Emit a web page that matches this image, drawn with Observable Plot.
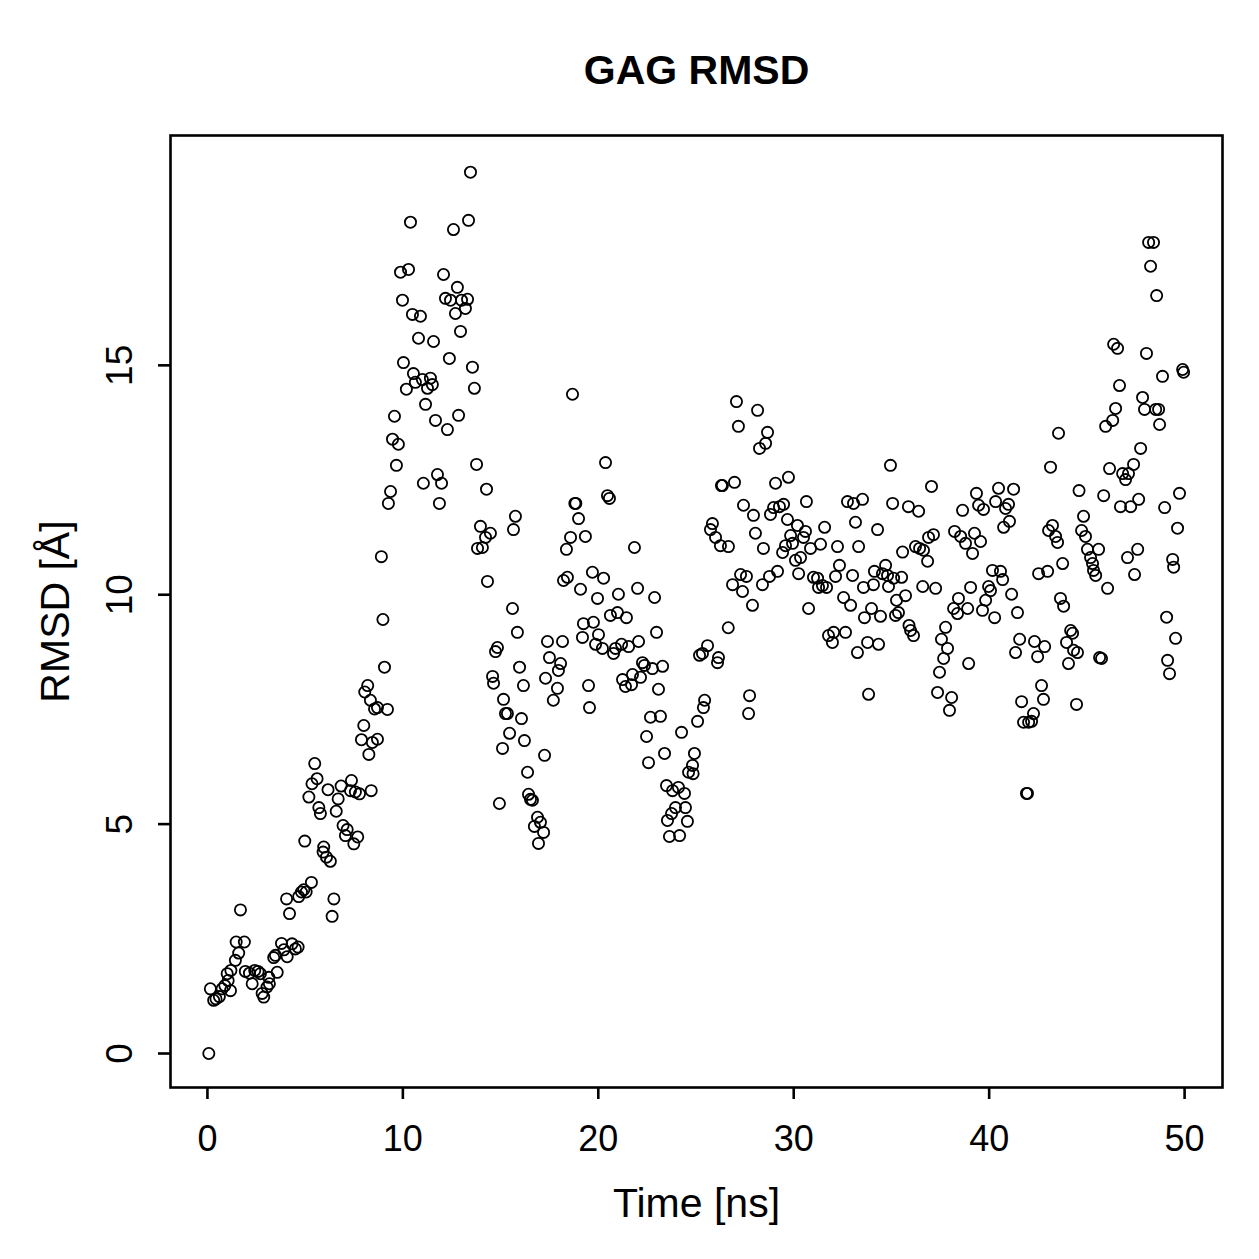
<!DOCTYPE html>
<html><head><meta charset="utf-8">
<script src="https://cdn.jsdelivr.net/npm/d3@7"></script>
<script src="https://cdn.jsdelivr.net/npm/@observablehq/plot@0.6"></script>
<style>html,body{margin:0;padding:0;background:#fff}</style>
</head><body><div id="chart"></div>
<script>
const chartTitle = "GAG RMSD";
const xLabel = "Time [ns]";
const yLabel = "RMSD [Å]";
const xTicks = [0, 10, 20, 30, 40, 50];
const yTicks = [0, 5, 10, 15];
// [time (ns), RMSD (Å)]
const rmsdSeries = [
[0.07,0],[0.15,1.41],[0.32,1.16],[0.44,1.19],[0.61,1.24],[0.75,1.41],[0.89,1.48],[1.01,1.74],[1.06,1.59],[1.18,1.37],
[1.2,1.81],[1.43,2.03],[1.47,2.43],[1.6,2.19],[1.69,3.13],[1.89,2.43],[1.94,1.79],[2.15,1.75],[2.29,1.52],[2.42,1.81],
[2.59,1.79],[2.71,1.74],[2.8,1.31],[2.88,1.23],[3.05,1.45],[3.14,1.66],[3.17,1.52],[3.39,2.09],[3.48,2.14],[3.57,1.77],
[3.79,2.4],[3.91,2.26],[4.08,2.11],[4.05,3.37],[4.2,3.05],[4.33,2.39],[4.5,2.28],[4.64,2.32],[4.67,3.42],[4.81,3.52],
[4.93,3.57],[4.98,4.63],[5.05,3.52],[5.19,5.59],[5.32,3.73],[5.35,5.88],[5.49,6.32],[5.61,5.99],[5.7,5.36],[5.78,5.23],
[5.92,4.39],[5.95,4.5],[6.09,4.28],[6.17,5.75],[6.29,4.19],[6.38,2.99],[6.47,3.37],[6.59,5.28],[6.69,5.55],[6.84,5.83],
[6.94,4.97],[7.06,4.75],[7.15,4.88],[7.32,5.73],[7.37,5.95],[7.49,4.57],[7.57,5.7],[7.69,4.72],[7.78,5.66],[7.88,6.84],
[8.0,7.15],[8.05,7.88],[8.2,8.02],[8.26,6.52],[8.34,7.7],[8.38,5.73],[8.44,6.78],[8.55,7.51],[8.7,6.85],[8.7,7.54],
[8.9,10.83],[8.98,9.46],[9.06,8.42],[9.21,7.5],[9.26,11.99],[9.37,12.25],[9.47,13.39],[9.57,13.89],[9.67,12.82],[9.77,13.28],
[9.88,17.03],[9.98,16.42],[10.03,15.06],[10.18,14.48],[10.29,17.09],[10.39,18.12],[10.49,16.11],[10.54,14.82],[10.64,14.63],[10.8,15.59],
[10.9,16.07],[11.0,14.69],[11.05,12.43],[11.16,14.15],[11.26,14.5],[11.41,14.72],[11.51,14.58],[11.57,15.52],[11.67,13.8],[11.77,12.62],
[11.87,11.99],[11.98,12.43],[12.08,16.98],[12.18,16.46],[12.28,13.6],[12.38,15.15],[12.44,16.42],[12.59,17.96],[12.69,16.13],[12.79,16.7],
[12.85,13.91],[12.95,15.74],[13.0,16.42],[13.2,16.24],[13.31,16.44],[13.36,18.16],[13.46,19.21],[13.56,14.96],[13.66,14.5],[13.77,12.84],
[13.82,11.01],[13.97,11.49],[14.07,11.03],[14.23,11.25],[14.28,12.3],[14.33,10.29],[14.48,11.34],[14.59,8.22],[14.64,8.07],[14.74,8.76],
[14.84,8.85],[14.94,5.45],[15.1,6.65],[15.15,7.72],[15.25,7.41],[15.35,7.41],[15.46,6.98],[15.61,9.7],[15.66,11.42],[15.76,11.71],
[15.86,9.18],[15.97,8.42],[16.07,7.3],[16.17,8.02],[16.22,6.82],[16.38,6.13],[16.43,5.65],[16.53,5.54],[16.63,5.52],[16.73,4.95],
[16.89,5.15],[16.94,4.58],[17.04,5.04],[17.2,4.82],[17.25,6.5],[17.3,8.18],[17.4,8.98],[17.5,8.63],[17.7,7.7],[17.91,7.96],
[17.96,8.35],[18.07,8.5],[18.17,8.98],[18.22,10.31],[18.37,10.99],[18.42,10.38],[18.58,11.25],[18.68,14.37],[18.8,11.99],[18.85,11.99],
[18.99,11.66],[19.09,10.12],[19.19,9.07],[19.24,9.37],[19.34,11.27],[19.5,8.02],[19.55,7.54],[19.7,10.49],[19.75,9.4],[19.86,8.92],
[19.96,9.92],[20.01,9.13],[20.21,8.83],[20.27,10.36],[20.37,12.88],[20.47,12.16],[20.57,12.1],[20.62,9.55],[20.78,8.72],[20.88,8.83],
[20.98,9.61],[21.03,10.01],[21.19,8.92],[21.24,8.15],[21.39,8.0],[21.44,9.5],[21.55,8.87],[21.7,8.04],[21.75,8.26],[21.85,11.03],
[22.01,10.14],[22.06,8.98],[22.16,8.2],[22.26,8.52],[22.36,8.46],[22.47,6.91],[22.57,6.34],[22.67,7.33],[22.77,8.39],[22.88,9.94],
[22.98,9.18],[23.08,7.94],[23.18,7.35],[23.29,8.44],[23.39,6.54],[23.49,5.84],[23.54,5.08],[23.64,4.73],[23.8,5.73],[23.75,5.23],
[23.95,5.36],[24.1,5.8],[24.16,4.75],[24.26,7.0],[24.41,5.67],[24.46,5.36],[24.56,5.06],[24.62,6.13],[24.82,6.28],[24.85,6.1],
[24.92,6.54],[25.08,7.24],[25.18,8.68],[25.33,8.72],[25.38,7.54],[25.44,7.7],[25.59,8.89],[25.74,11.42],[25.84,11.55],[26.0,11.25],
[26.1,8.52],[26.15,8.63],[26.25,11.07],[26.3,12.38],[26.35,12.38],[26.65,9.28],[26.66,11.05],[26.87,10.22],[26.97,12.45],[27.07,14.21],
[27.17,13.67],[27.28,10.44],[27.38,10.07],[27.43,11.95],[27.58,10.4],[27.69,7.41],[27.74,7.8],[27.89,9.77],[27.94,11.73],[28.04,11.34],
[28.15,14.02],[28.25,13.19],[28.4,10.22],[28.45,11.01],[28.56,13.3],[28.66,13.54],[28.76,10.4],[28.81,11.75],[28.97,11.9],[29.07,12.43],
[29.17,10.51],[29.27,11.92],[29.43,10.92],[29.48,11.97],[29.58,11.07],[29.68,11.64],[29.73,12.56],[29.84,11.29],[29.94,11.12],[30.09,10.75],
[30.19,11.51],[30.25,10.46],[30.35,10.81],[30.5,11.25],[30.6,11.38],[30.65,12.03],[30.76,9.7],[30.86,11.01],[31.01,10.38],[31.22,10.36],
[31.27,10.16],[31.37,11.1],[31.47,10.2],[31.58,11.47],[31.68,10.16],[31.78,9.11],[31.98,8.96],[32.04,9.18],[32.14,10.4],[32.24,11.05],
[32.34,10.64],[32.55,9.94],[32.65,9.18],[32.75,12.03],[32.91,9.77],[33.01,10.42],[33.06,11.99],[33.16,11.58],[33.26,8.74],[33.32,11.05],
[33.52,12.08],[33.57,10.16],[33.62,9.5],[33.78,8.96],[33.83,7.83],[33.98,9.7],[34.08,10.22],[34.13,10.51],[34.29,11.42],[34.34,8.92],
[34.44,9.53],[34.54,10.46],[34.7,10.64],[34.8,10.42],[34.85,10.18],[34.95,12.82],[35.06,11.99],[35.11,10.36],[35.21,9.55],[35.26,9.88],
[35.36,9.61],[35.52,10.38],[35.57,10.93],[35.72,9.98],[35.87,11.92],[35.9,9.33],[35.98,9.22],[36.13,9.11],[36.23,11.05],[36.39,11.82],
[36.44,11.01],[36.64,10.97],[36.6,10.18],[36.85,10.73],[36.9,11.25],[37.05,12.36],[37.15,11.31],[37.26,10.14],[37.36,7.87],[37.46,8.31],
[37.56,9.03],[37.67,8.61],[37.77,9.29],[37.87,8.83],[37.97,7.48],[38.08,7.76],[38.18,9.7],[38.23,11.38],[38.38,9.59],[38.43,9.92],
[38.54,11.27],[38.64,11.84],[38.79,11.12],[38.9,9.7],[38.95,8.5],[39.05,10.16],[39.15,10.9],[39.25,11.34],[39.35,12.21],[39.46,11.95],
[39.56,11.16],[39.66,9.66],[39.71,11.86],[39.82,9.88],[39.97,10.18],[40.07,10.09],[40.17,10.53],[40.28,9.5],[40.33,12.03],[40.48,12.32],
[40.58,10.51],[40.69,10.33],[40.74,11.47],[40.84,11.88],[40.99,11.97],[41.04,11.6],[41.15,10.01],[41.25,12.3],[41.35,8.74],[41.45,9.61],
[41.56,9.03],[41.66,7.67],[41.76,7.22],[41.91,5.67],[41.96,5.67],[42.02,7.22],[42.17,7.24],[42.27,7.41],[42.32,8.98],[42.48,8.65],
[42.53,10.46],[42.68,8.02],[42.78,7.72],[42.84,8.87],[42.99,10.51],[43.04,11.4],[43.14,12.78],[43.24,11.51],[43.4,11.27],[43.5,11.14],
[43.55,13.52],[43.65,9.92],[43.76,10.68],[43.81,9.75],[43.96,8.96],[44.06,8.5],[44.17,9.22],[44.27,9.16],[44.32,8.79],[44.47,7.61],
[44.52,8.74],[44.6,12.27],[44.73,11.4],[44.83,11.71],[44.93,11.27],[45.03,10.99],[45.19,10.81],[45.29,10.68],[45.34,10.53],[45.45,10.42],
[45.6,10.99],[45.65,8.63],[45.75,8.61],[45.86,12.16],[45.96,13.67],[46.06,10.14],[46.16,12.75],[46.32,13.8],[46.37,15.46],[46.47,14.06],
[46.57,15.37],[46.67,14.56],[46.72,11.92],[46.83,12.64],[46.98,12.51],[47.08,10.81],[47.13,12.64],[47.24,11.92],[47.39,12.84],[47.44,10.44],
[47.6,10.99],[47.65,12.08],[47.75,13.19],[47.85,14.3],[47.95,14.04],[48.05,15.26],[48.16,17.68],[48.26,17.16],[48.41,17.68],[48.52,14.04],
[48.57,16.52],[48.67,14.04],[48.72,13.71],[48.87,14.76],[48.98,11.9],[49.08,9.51],[49.13,8.57],[49.23,8.28],[49.39,10.77],[49.44,10.6],
[49.54,9.05],[49.64,11.45],[49.74,12.21],[49.9,14.91],[49.95,14.85]
];
const font = "'Liberation Sans', Arial, Helvetica, sans-serif";
const chart = Plot.plot({
  width: 1259, height: 1259,
  marginLeft: 170, marginRight: 37, marginTop: 135, marginBottom: 172,
  style: {fontFamily: font, background: "white", color: "black"},
  x: {domain: [-1.89, 51.94]},
  y: {domain: [-0.741, 20.01]},
  marks: [
    Plot.frame({stroke: "black", strokeWidth: 2.6}),
    Plot.axisX({ticks: xTicks, tickSize: 12, tickPadding: 26, fontSize: 36, label: null, strokeWidth: 2.6}),
    Plot.axisY({ticks: yTicks, tickSize: 12, tickFormat: () => "", label: null, strokeWidth: 2.6}),
    Plot.text(yTicks, {y: d => d, text: d => String(d), frameAnchor: "left", dx: -50, rotate: -90, fontSize: 37, textAnchor: "middle", lineAnchor: "middle"}),
    Plot.dot(rmsdSeries, {x: d => d[0], y: d => d[1], r: 5.6, stroke: "black", strokeWidth: 1.8, fill: "none"}),
    Plot.text([xLabel], {text: d => d, frameAnchor: "bottom", dy: 116, fontSize: 41, textAnchor: "middle", lineAnchor: "middle"}),
    Plot.text([yLabel], {text: d => d, frameAnchor: "left", dx: -115, rotate: -90, fontSize: 41, textAnchor: "middle", lineAnchor: "middle"}),
    Plot.text([chartTitle], {text: d => d, frameAnchor: "top", dy: -65, fontSize: 41, fontWeight: "bold", textAnchor: "middle", lineAnchor: "middle"})
  ]
});
document.getElementById("chart").appendChild(chart);
</script>
</body></html>
